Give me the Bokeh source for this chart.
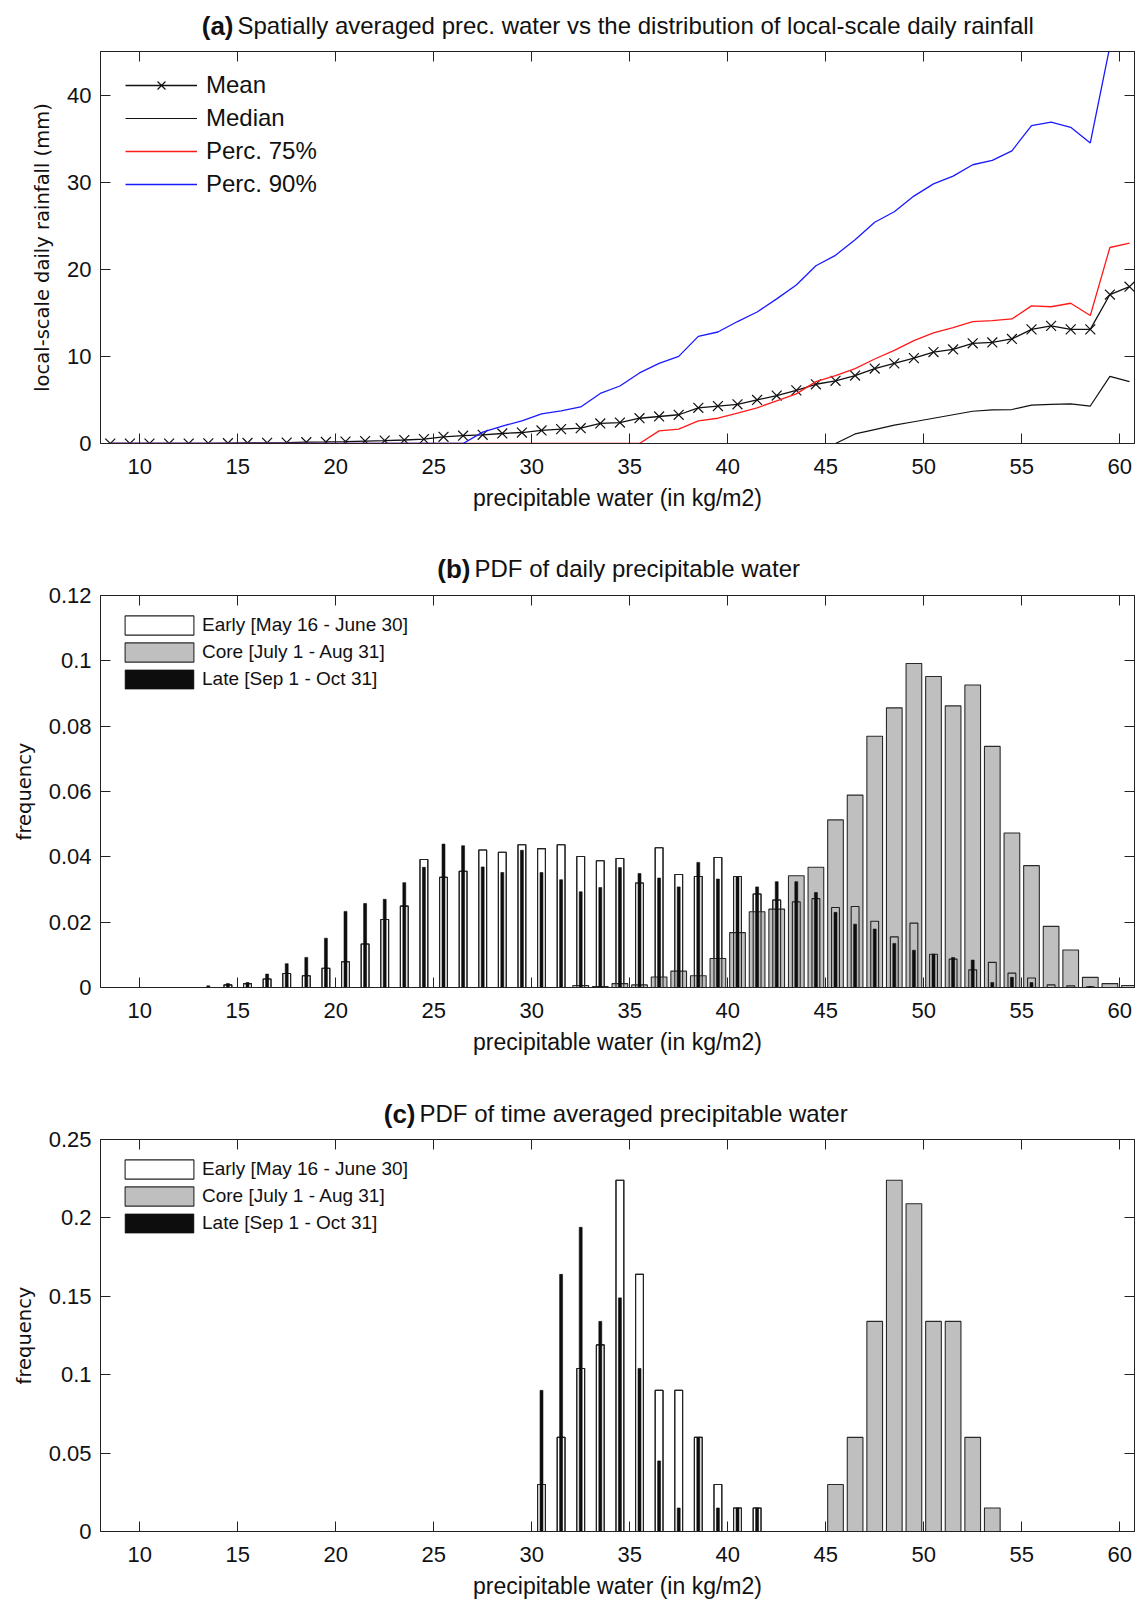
from bokeh.plotting import figure
from bokeh.models import (Range1d, LinearAxis, FixedTicker, CustomJSTickFormatter,
                          Legend, LegendItem)
from bokeh.core.properties import value
from bokeh.layouts import column
from bokeh.embed import file_html
from bokeh.resources import INLINE

# ---------------- data ----------------
bin_centers = [8.5, 9.5, 10.5, 11.5, 12.5, 13.5, 14.5, 15.5, 16.5, 17.5,
               18.5, 19.5, 20.5, 21.5, 22.5, 23.5, 24.5, 25.5, 26.5, 27.5,
               28.5, 29.5, 30.5, 31.5, 32.5, 33.5, 34.5, 35.5, 36.5, 37.5,
               38.5, 39.5, 40.5, 41.5, 42.5, 43.5, 44.5, 45.5, 46.5, 47.5,
               48.5, 49.5, 50.5, 51.5, 52.5, 53.5, 54.5, 55.5, 56.5, 57.5,
               58.5, 59.5, 60.5]

# panel (a): local-scale daily rainfall (mm)
rain_mean = [0, 0, 0, 0, 0, 0.02, 0.04, 0.06, 0.08, 0.1,
             0.15, 0.18, 0.22, 0.28, 0.33, 0.4, 0.5, 0.77, 0.9, 1.0,
             1.15, 1.26, 1.5, 1.65, 1.76, 2.3, 2.4, 2.9, 3.1, 3.3,
             4.1, 4.3, 4.5, 5.0, 5.5, 6.1, 6.8, 7.2, 7.8, 8.6,
             9.2, 9.8, 10.5, 10.8, 11.5, 11.6, 12.0, 13.1, 13.5, 13.1,
             13.1, 17.1, 18.0]
rain_median = [0, 0, 0, 0, 0, 0, 0, 0, 0, 0,
               0, 0, 0, 0, 0, 0, 0, 0, 0, 0,
               0, 0, 0, 0, 0, 0, 0, 0, 0, 0,
               0, 0, 0, 0, 0, 0, 0, 0, 1.1, 1.6,
               2.1, 2.5, 2.9, 3.3, 3.7, 3.85, 3.9, 4.4, 4.5, 4.55,
               4.3, 7.7, 7.1]
rain_p75 = [0, 0, 0, 0, 0, 0, 0, 0, 0, 0,
            0, 0, 0, 0, 0, 0, 0, 0, 0, 0,
            0, 0, 0, 0, 0, 0, 0, 0, 1.45, 1.65,
            2.6, 2.9, 3.5, 4.1, 4.9, 5.7, 7.1, 7.8, 8.6, 9.7,
            10.7, 11.8, 12.7, 13.3, 14.0, 14.1, 14.3, 15.8, 15.7, 16.1,
            14.7, 22.5, 23.0]
rain_p90 = [0, 0, 0, 0, 0, 0, 0, 0, 0, 0,
            0, 0, 0, 0, 0, 0, 0, 0, 0, 1.3,
            2.0, 2.6, 3.4, 3.75, 4.2, 5.75, 6.6, 8.1, 9.2, 10.0,
            12.3, 12.8, 14.0, 15.1, 16.6, 18.2, 20.4, 21.6, 23.4, 25.4,
            26.6, 28.4, 29.8, 30.7, 32.0, 32.5, 33.6, 36.5, 36.9, 36.3,
            34.5, 45.6, 47.0]

# panel (b): PDF of daily precipitable water
early_daily = [0, 0, 0, 0, 0, 0, 0.0008, 0.0012, 0.0026, 0.0043,
               0.0036, 0.0059, 0.0079, 0.0133, 0.0208, 0.0249, 0.0392, 0.0337, 0.0356, 0.0421,
               0.0414, 0.0437, 0.0425, 0.0437, 0.0401, 0.0388, 0.0395, 0.0320, 0.0428, 0.0346,
               0.0340, 0.0398, 0.0340, 0.0286, 0.0268, 0.0262, 0.0272, 0.0245, 0.0248, 0.0203,
               0.0155, 0.0197, 0.0102, 0.0087, 0.0054, 0.0077, 0.0044, 0.0029, 0.0008, 0.0005,
               0.0002, 0, 0]
core_daily = [0, 0, 0, 0, 0, 0, 0, 0, 0, 0,
              0, 0, 0, 0, 0, 0, 0, 0, 0, 0,
              0, 0, 0, 0, 0.0006, 0.0003, 0.0012, 0.0008, 0.0032, 0.0050,
              0.0036, 0.0089, 0.0168, 0.0232, 0.0240, 0.0342, 0.0368, 0.0513, 0.0589, 0.0769,
              0.0856, 0.0992, 0.0952, 0.0862, 0.0926, 0.0738, 0.0473, 0.0373, 0.0187, 0.0115,
              0.0031, 0.0012, 0.0006]
late_daily = [0, 0, 0, 0, 0, 0.0005, 0.0012, 0.0015, 0.0041, 0.0073,
              0.0092, 0.0151, 0.0233, 0.0257, 0.0270, 0.0321, 0.0368, 0.0439, 0.0434, 0.0369,
              0.0352, 0.0420, 0.0352, 0.0330, 0.0293, 0.0306, 0.0367, 0.0349, 0.0335, 0.0308,
              0.0383, 0.0332, 0.0338, 0.0308, 0.0324, 0.0324, 0.0291, 0.0230, 0.0194, 0.0179,
              0.0135, 0.0114, 0.0102, 0.0092, 0.0084, 0.0015, 0.0031, 0.0015, 0, 0,
              0.0003, 0, 0]

# panel (c): PDF of time averaged precipitable water
avg_centers = [30.5, 31.5, 32.5, 33.5, 34.5, 35.5, 36.5, 37.5, 38.5, 39.5,
               40.5, 41.5, 42.5, 43.5, 44.5, 45.5, 46.5, 47.5, 48.5, 49.5,
               50.5, 51.5, 52.5, 53.5]
early_avg = [0.03, 0.06, 0.104, 0.119, 0.224, 0.164, 0.09, 0.09, 0.06, 0.03,
             0.015, 0.015, 0, 0, 0, 0, 0, 0, 0, 0,
             0, 0, 0, 0]
core_avg = [0, 0, 0, 0, 0, 0, 0, 0, 0, 0,
            0, 0, 0, 0, 0, 0.03, 0.06, 0.134, 0.224, 0.209,
            0.134, 0.134, 0.06, 0.015]
late_avg = [0.09, 0.164, 0.194, 0.134, 0.149, 0.104, 0.045, 0.015, 0.06, 0.015,
            0.015, 0.015, 0, 0, 0, 0, 0, 0, 0, 0,
            0, 0, 0, 0]

x_ticks = [10, 15, 20, 25, 30, 35, 40, 45, 50, 55, 60]
season_labels = ["Early [May 16 - June 30]", "Core [July 1 - Aug 31]", "Late [Sep 1 - Oct 31]"]
line_labels = ["Mean", "Median", "Perc. 75%", "Perc. 90%"]
panel_letters = ["(a)", "(b)", "(c)"]
panel_titles = ["Spatially averaged prec. water vs the distribution of local-scale daily rainfall",
                "PDF of daily precipitable water",
                "PDF of time averaged precipitable water"]

# ---------------- styling ----------------
SANS = "Liberation Sans"
AX = "#222222"
TXT = "#111111"
FMT = CustomJSTickFormatter(code="return String(tick);")
TITLE_H = 40
FRAME_L = 100
FRAME_W = 1034


def style_axis(ax, ticks, show_labels):
    ax.ticker = FixedTicker(ticks=ticks)
    ax.major_tick_in = 10
    ax.major_tick_out = 0
    ax.minor_tick_line_color = None
    ax.axis_line_color = AX
    ax.axis_line_width = 1
    ax.major_tick_line_color = AX
    ax.major_tick_line_width = 1
    if show_labels:
        ax.formatter = FMT
        ax.major_label_text_font = SANS
        ax.major_label_text_font_size = "22px"
        ax.major_label_text_color = TXT
    else:
        ax.major_label_text_font_size = "0px"
        ax.major_label_text_color = None
        ax.major_label_standoff = 0


def title_fig(letter, text, x_join, y_mid):
    # the frame of this strip is aligned with the panel frame below (100 .. 1134 px),
    # so the x range is expressed in page pixels
    t = figure(frame_width=FRAME_W, frame_height=TITLE_H,
               x_range=Range1d(FRAME_L, FRAME_L + FRAME_W), y_range=Range1d(0, TITLE_H),
               output_backend="svg", toolbar_location=None,
               x_axis_location=None, y_axis_location=None,
               min_border_left=FRAME_L, min_border_right=3, min_border_top=0, min_border_bottom=0)
    t.grid.visible = False
    t.outline_line_color = None
    t.text(x=[x_join], y=[y_mid], text=[letter], text_align="right", text_baseline="middle",
           text_font=value(SANS), text_font_size="26px", text_font_style="bold", text_color=TXT)
    t.text(x=[x_join + 4], y=[y_mid], text=[text], text_align="left", text_baseline="middle",
           text_font=value(SANS), text_font_size="24px", text_color=TXT)
    return t


def make_fig(ymax, yticks, ylabel, border_bottom):
    p = figure(frame_width=FRAME_W, frame_height=392,
               x_range=Range1d(8, 60.755), y_range=Range1d(0, ymax),
               output_backend="svg", toolbar_location=None,
               min_border_left=FRAME_L, min_border_top=51 - TITLE_H, min_border_right=3,
               min_border_bottom=border_bottom)
    p.grid.visible = False
    p.outline_line_color = AX
    p.background_fill_color = "white"
    p.border_fill_color = "white"

    bx = p.xaxis[0]
    ly = p.yaxis[0]
    style_axis(bx, x_ticks, True)
    style_axis(ly, yticks, True)
    bx.major_label_standoff = 15
    ly.major_label_standoff = 9

    bx.axis_label = "precipitable water (in kg/m2)"
    bx.axis_label_text_font = SANS
    bx.axis_label_text_font_size = "23px"
    bx.axis_label_text_font_style = "normal"
    bx.axis_label_text_color = TXT
    bx.axis_label_standoff = 8

    ly.axis_label = ylabel
    ly.axis_label_text_font = "DejaVu Sans"
    ly.axis_label_text_font_size = "19.5px"
    ly.axis_label_text_font_style = "normal"
    ly.axis_label_text_color = TXT
    ly.axis_label_standoff = 10

    top = LinearAxis()
    style_axis(top, x_ticks, False)
    p.add_layout(top, "above")
    right = LinearAxis()
    style_axis(right, yticks, False)
    p.add_layout(right, "right")
    return p


# ---------------- panel (a) ----------------
ta = title_fig(panel_letters[0], panel_titles[0], 233, 15)
pa = make_fig(45, [0, 10, 20, 30, 40], "local-scale daily rainfall (mm)", 101)
r_mean = pa.line(bin_centers, rain_mean, line_color=TXT, line_width=1.3)
r_mean_m = pa.scatter(bin_centers, rain_mean, marker="x", size=14, line_color=TXT, line_width=1.2)
r_med = pa.line(bin_centers, rain_median, line_color=TXT, line_width=1.2)
r_75 = pa.line(bin_centers, rain_p75, line_color="#ff1a1a", line_width=1.3)
r_90 = pa.line(bin_centers, rain_p90, line_color="#1a1aff", line_width=1.3)
leg_a = Legend(items=[LegendItem(label=line_labels[0], renderers=[r_mean, r_mean_m]),
                      LegendItem(label=line_labels[1], renderers=[r_med]),
                      LegendItem(label=line_labels[2], renderers=[r_75]),
                      LegendItem(label=line_labels[3], renderers=[r_90])],
               location=(25, 245), padding=0, margin=0, spacing=5,
               glyph_width=72, glyph_height=28, label_height=28, label_standoff=9,
               label_text_font=SANS, label_text_font_size="24px", label_text_color=TXT,
               border_line_color=None, background_fill_alpha=0)
pa.add_layout(leg_a)


# ---------------- panels (b), (c) ----------------
def season_bars(p, xs, early, core, late):
    e = p.vbar(x=xs, top=early, width=0.4, bottom=0, fill_color="white",
               line_color="#222222", line_width=1.1)
    c = p.vbar(x=xs, top=core, width=0.8, bottom=0, fill_color="#bfbfbf",
               line_color="#2a2a2a", line_width=1.1)
    p.vbar(x=xs, top=early, width=0.4, bottom=0, fill_alpha=0,
           line_color="#222222", line_width=1.1)
    l = p.vbar(x=xs, top=late, width=0.15, bottom=0, fill_color="#0d0d0d",
               line_color="#0d0d0d", line_width=0.6)
    leg = Legend(items=[LegendItem(label=season_labels[0], renderers=[e]),
                        LegendItem(label=season_labels[1], renderers=[c]),
                        LegendItem(label=season_labels[2], renderers=[l])],
                 location=(16, 296), padding=0, margin=0, spacing=3,
                 glyph_width=86, glyph_height=24, label_height=24, label_standoff=0,
                 label_text_font=SANS, label_text_font_size="19px", label_text_color=TXT,
                 border_line_color=None, background_fill_alpha=0)
    p.add_layout(leg)


tb = title_fig(panel_letters[1], panel_titles[1], 470, 16)
pb = make_fig(0.12, [0, 0.02, 0.04, 0.06, 0.08, 0.1, 0.12], "frequency", 101)
season_bars(pb, bin_centers, early_daily, core_daily, late_daily)

tc = title_fig(panel_letters[2], panel_titles[2], 415, 15)
pc = make_fig(0.25, [0, 0.05, 0.1, 0.15, 0.2, 0.25], "frequency", 69)
season_bars(pc, avg_centers, early_avg, core_avg, late_avg)

layout = column(ta, pa, tb, pb, tc, pc, spacing=0)
open("out.html", "w").write(file_html(layout, INLINE))
